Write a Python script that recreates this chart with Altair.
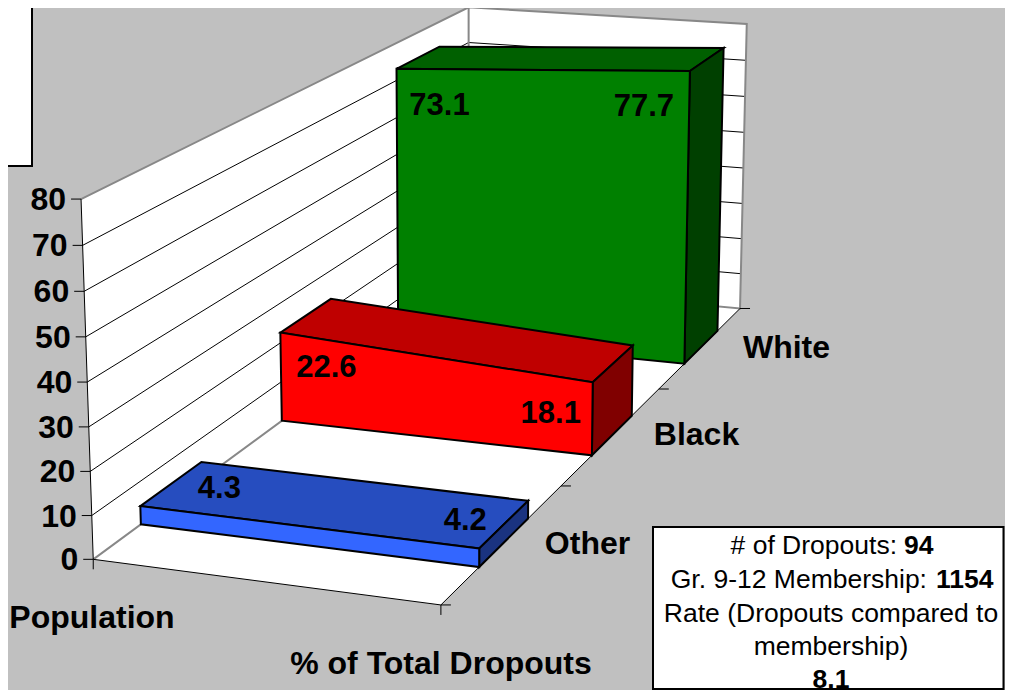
import altair as alt
import numpy as np
import pandas as pd

# ---------- data ----------
categories = ["Other", "Black", "White"]
population = [4.3, 22.6, 73.1]
dropouts = [4.2, 18.1, 77.7]
value_ticks = [0, 10, 20, 30, 40, 50, 60, 70, 80]
series_names = ["Population", "% of Total Dropouts"]
info_regular = ["# of Dropouts:", "Gr. 9-12 Membership:"]
info_bold = ["94", "1154"]
info_wrapped = ["Rate (Dropouts compared to", "membership)"]
info_rate = "8.1"

# ---------- styles ----------
BG = "#C0C0C0"
FRONT = ["#3366FF", "#FF0000", "#008000"]
TOP = ["#264DBF", "#BF0000", "#006000"]
SIDE = ["#1A3380", "#800000", "#004000"]
FONT = "Liberation Sans"
SIZE = 32
VALUE_SIZE = 31
INFO_SIZE = 26.5
ORIGIN = 8  # page margin
TEXT_DY = 1  # middle baseline sits a pixel high

# ---------- 3-D camera: world (u across, t depth, h value) -> page pixels ----------
calib = [
    ((0, 0, 0), (93.3, 559)), ((1, 0, 0), (441, 606)), ((1, 1, 0), (740, 307)),
    ((0, 1, 0), (469, 285)), ((0, 0, 80), (81, 199)), ((1, 1, 80), (747, 24.5)),
    ((0, 1, 80), (468, 7)), ((1, 1 / 3, 0), (560.5, 486.7)), ((1, 2 / 3, 0), (659, 388)),
    ((1, .7655, 77.7), (690, 71.7)), ((0, .7655, 73.1), (397, 68)),
    ((0, .4335, 22.6), (281, 332)), ((1, .4335, 18.1), (593, 381.7)),
    ((0, .4335, 0), (281.7, 421)), ((0, .0968, 4.3), (140, 505.7)),
]
A, b = [], []
for (u, t, h), (px, py) in calib:
    z = h / 80
    A.append([u, t, z, 1, 0, 0, 0, 0, -px * u, -px * t, -px * z])
    b.append(px)
    A.append([0, 0, 0, 0, u, t, z, 1, -py * u, -py * t, -py * z])
    b.append(py)
P = np.append(np.linalg.lstsq(np.array(A), np.array(b), rcond=None)[0], 1).reshape(3, 4)


def project(u, t, h):
    w = P @ np.array([u, t, h / 80, 1.0])
    return [float(w[0] / w[2]) - ORIGIN, float(w[1] / w[2]) - ORIGIN]


features = []


def poly(points, fill, stroke="none", sw=0):
    features.append({"type": "Feature", "properties": {"fill": fill, "stroke": stroke, "sw": sw},
                     "geometry": {"type": "Polygon", "coordinates": [points + [points[0]]]}})


def line(points, stroke="#000000", sw=1):
    features.append({"type": "Feature", "properties": {"fill": "none", "stroke": stroke, "sw": sw},
                     "geometry": {"type": "LineString", "coordinates": points}})


GRAY = "#888888"
# walls and floor
poly([project(0, 0, 0), project(0, 0, 80), project(0, 1, 80), project(0, 1, 0)], "#FFFFFF")
poly([project(0, 1, 0), project(0, 1, 80), project(1, 1, 80), project(1, 1, 0)], "#FFFFFF")
poly([project(0, 0, 0), project(1, 0, 0), project(1, 1, 0), project(0, 1, 0)], "#FFFFFF")
# gridlines
for v in value_ticks[1:-1]:
    line([project(0, 0, v), project(0, 1, v), project(1, 1, v)], "#000000", 1)
# wall outline
line([project(0, 0, 80), project(0, 1, 80), project(1, 1, 80), project(1, 1, 0), project(0, 1, 0), project(0, 0, 0)], GRAY, 2)
line([project(0, 1, 0), project(0, 1, 80)], GRAY, 2)
# axes lines
line([project(0, 0, 80), project(0, 0, 0), project(1, 0, 0), project(1, 1, 0)], "#000000", 1)
# ticks
TICK = 10
for v in value_ticks:
    x, y = project(0, 0, v)
    line([[x - TICK, y], [x, y]], "#000000", 1)
for t in [0, 1 / 3, 2 / 3, 1]:
    x, y = project(1, t, 0)
    line([[x, y], [x + TICK, y]], "#000000", 1)
for u in [0, 1]:
    x, y = project(u, 0, 0)
    line([[x, y], [x, y + TICK]], "#000000", 1)

# 3-D area slabs, back to front
bar_depth = 0.136
for i in [2, 1, 0]:
    t0 = (i + 0.5) / 3 - bar_depth / 2
    t1 = t0 + bar_depth
    a, c = population[i], dropouts[i]
    poly([project(0, t0, a), project(1, t0, c), project(1, t1, c), project(0, t1, a)], TOP[i], "#000000", 2)
    poly([project(1, t0, c), project(1, t1, c), project(1, t1, 0), project(1, t0, 0)], SIDE[i], "#000000", 2)
    poly([project(0, t0, 0), project(0, t0, a), project(1, t0, c), project(1, t0, 0)], FRONT[i], "#000000", 2)

# annotation boxes
poly([[-20, -5], [24, -5], [24, 158], [-20, 158]], "#FFFFFF", "#000000", 2)
poly([[645, 519], [995.5, 519], [995.5, 681], [645, 681]], "#FFFFFF", "#000000", 2)

shapes = alt.Chart(alt.InlineData(values={"type": "FeatureCollection", "features": features},
                                  format=alt.DataFormat(property="features", type="json"))).mark_geoshape().encode(
    fill=alt.Fill("properties.fill:N", scale=None),
    stroke=alt.Stroke("properties.stroke:N", scale=None),
    strokeWidth=alt.StrokeWidth("properties.sw:Q", scale=None),
).project(type="identity", scale=1, translate=[0, 0])


def text_layer(rows, size=SIZE, weight="bold", align="center"):
    df = pd.DataFrame(rows, columns=["label", "px", "py"])
    return alt.Chart(df).mark_text(font=FONT, fontSize=size, fontWeight=weight, align=align,
                                   baseline="middle", color="#000000").encode(
        x=alt.X("px:Q", scale=None, axis=None),
        y=alt.Y("py:Q", scale=None, axis=None),
        text="label:N",
    )


# value labels, offset from the front top corner of each slab
left_offsets = [(79, -17), (46, 35), (43, 37)]
right_offsets = [(-14, -27), (-42, 32), (-46, 36)]
value_rows = []
for i in range(3):
    t0 = (i + 0.5) / 3 - bar_depth / 2
    x, y = project(0, t0, population[i])
    value_rows.append([f"{population[i]}", x + left_offsets[i][0], y + left_offsets[i][1]])
    x, y = project(1, t0, dropouts[i])
    value_rows.append([f"{dropouts[i]}", x + right_offsets[i][0], y + right_offsets[i][1]])

tick_rows = []
for v in value_ticks:
    x, y = project(0, 0, v)
    tick_rows.append([str(v), x - 15, y + TEXT_DY])

cat_rows = []
cat_x = [587.5, 696.5, 786.5]
cat_y = [543, 434, 347]
for n, x, y in zip(categories, cat_x, cat_y):
    cat_rows.append([n, x - ORIGIN, y - ORIGIN + TEXT_DY])

base = TEXT_DY - ORIGIN
series_rows = [[series_names[0], 92 - ORIGIN, 617 + base], [series_names[1], 441 - ORIGIN, 663 + base]]

cx = 831 - ORIGIN
info_r = [[info_regular[0], 897 - ORIGIN, 545 + base], [info_regular[1], 927 - ORIGIN, 579 + base]]
info_b = [[info_bold[0], 904 - ORIGIN, 545 + base], [info_bold[1], 936 - ORIGIN, 579 + base]]
info_c = [[info_wrapped[0], cx, 613 + base], [info_wrapped[1], cx, 646 + base]]
info_v = [[info_rate, cx, 679 + base]]

chart = alt.layer(
    shapes,
    text_layer(value_rows, VALUE_SIZE),
    text_layer(tick_rows, align="right"),
    text_layer(cat_rows),
    text_layer(series_rows),
    text_layer(info_r, INFO_SIZE, "normal", "right"),
    text_layer(info_b, INFO_SIZE, "bold", "left"),
    text_layer(info_c, INFO_SIZE, "normal"),
    text_layer(info_v, INFO_SIZE, "bold"),
).properties(width=997, height=682, background=BG, padding=0,
             autosize=alt.AutoSizeParams(type="none")).configure_view(stroke=None)

chart.save("out.html", embed_options={"renderer": "svg", "actions": False})
